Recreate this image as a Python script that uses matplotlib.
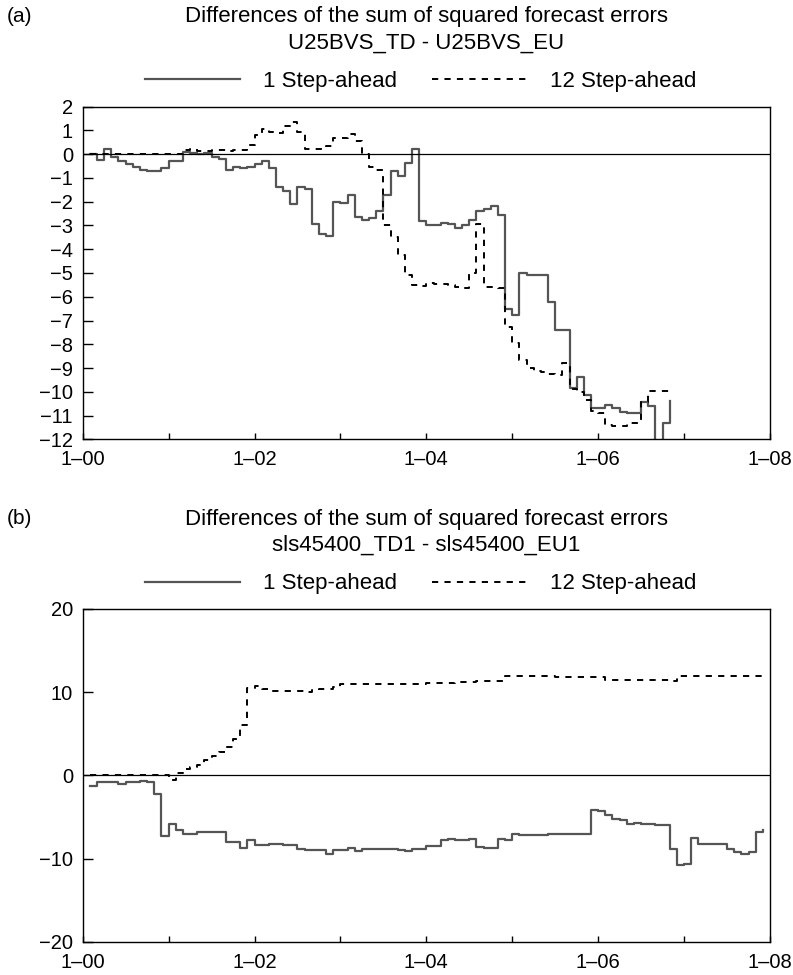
import matplotlib
matplotlib.use("Agg")
import matplotlib.pyplot as plt
import numpy as np
from matplotlib.ticker import MultipleLocator

plt.rcParams['font.family'] = ['Liberation Sans', 'DejaVu Sans']

# months counted from January 2000, x ticks every 12 months
xtick_pos = [0, 12, 24, 36, 48, 60, 72, 84, 96]
xtick_labels = ['1–00', '', '1–02', '', '1–04', '', '1–06', '', '1–08']
series_names = ['1 Step-ahead', '12 Step-ahead']

# panel (a): U25BVS_TD - U25BVS_EU, monthly values from month 1 to 82
months_a = np.arange(1, 83)
one_step_a = [0, -0.25, 0.2, -0.1, -0.3, -0.4, -0.55, -0.65, -0.72, -0.72,
              -0.6, -0.3, -0.3, 0.1, 0.05, 0.0, 0.05, -0.1, -0.2, -0.65,
              -0.55, -0.57, -0.55, -0.4, -0.3, -0.6, -1.4, -1.55, -2.1, -1.4,
              -1.45, -2.95, -3.35, -3.45, -2.0, -2.05, -1.7, -2.65, -2.75, -2.7,
              -2.4, -1.7, -0.7, -0.9, -0.37, 0.2, -2.82, -2.96, -2.96, -2.9,
              -2.94, -3.1, -2.96, -2.78, -2.4, -2.3, -2.17, -2.54, -6.5, -6.78,
              -5.02, -5.09, -5.09, -5.09, -6.2, -7.38, -7.38, -9.83, -9.37, -10.14,
              -10.68, -10.68, -10.54, -10.7, -10.84, -10.91, -10.91, -10.42, -10.6, -12.5,
              -11.3, -10.4]
twelve_step_a = [0, 0, 0, 0, 0, 0, 0, 0, 0, 0,
                 0, 0, 0, 0.17, 0.2, 0.15, 0.15, 0.17, 0.17, 0.15,
                 0.17, 0.17, 0.4, 0.8, 1.05, 0.95, 0.91, 1.18, 1.36, 0.95,
                 0.2, 0.2, 0.2, 0.35, 0.68, 0.7, 0.85, 0.55, 0.0, -0.53,
                 -0.67, -3.0, -3.5, -4.25, -5.1, -5.5, -5.56, -5.42, -5.45, -5.45,
                 -5.5, -5.6, -5.63, -4.98, -2.92, -5.6, -5.6, -5.65, -7.27, -7.95,
                 -8.65, -9.0, -9.13, -9.15, -9.26, -9.3, -8.77, -9.9, -10.0, -10.35,
                 -10.8, -10.9, -11.4, -11.45, -11.45, -11.3, -11.3, -10.42, -9.97, -9.97,
                 -9.97, -9.97]

# panel (b): sls45400_TD1 - sls45400_EU1, monthly values from month 1 to 95
months_b = np.arange(1, 96)
one_step_b = [-1.3, -0.85, -0.85, -0.85, -1.05, -0.85, -0.75, -0.65, -0.8, -2.3,
              -7.3, -5.8, -6.6, -7.0, -7.1, -6.85, -6.85, -6.85, -6.85, -8.0,
              -8.0, -8.7, -7.8, -8.4, -8.4, -8.3, -8.3, -8.4, -8.4, -8.9,
              -9.0, -9.0, -9.0, -9.4, -9.0, -9.0, -8.7, -9.05, -8.85, -8.85,
              -8.85, -8.85, -8.85, -8.95, -9.1, -8.9, -8.85, -8.45, -8.45, -7.8,
              -7.6, -7.8, -7.8, -7.6, -8.6, -8.7, -8.7, -7.65, -7.8, -7.0,
              -7.2, -7.2, -7.2, -7.15, -7.0, -7.0, -7.0, -7.05, -7.05, -7.05,
              -4.2, -4.3, -4.8, -5.3, -5.4, -5.8, -5.75, -5.8, -5.9, -6.0,
              -6.0, -8.8, -10.8, -10.7, -7.5, -8.3, -8.3, -8.3, -8.3, -8.8,
              -9.2, -9.5, -9.2, -6.8, -6.6]
twelve_step_b = [0, 0, 0, 0, 0, 0, 0, 0, 0, 0,
                 0, -0.5, 0.3, 0.8, 1.0, 1.3, 1.9, 2.3, 2.8, 3.4,
                 4.4, 6.1, 10.5, 10.8, 10.4, 10.2, 10.2, 10.1, 10.1, 10.1,
                 10.0, 10.3, 10.35, 10.35, 10.6, 11.0, 11.0, 11.0, 11.0, 11.0,
                 11.0, 11.0, 11.0, 11.0, 11.0, 11.0, 11.0, 11.1, 11.1, 11.1,
                 11.1, 11.2, 11.2, 11.2, 11.3, 11.3, 11.3, 11.3, 12.0, 12.0,
                 12.0, 12.0, 12.0, 12.0, 12.0, 11.8, 11.8, 11.8, 11.8, 11.8,
                 11.8, 11.8, 11.5, 11.5, 11.5, 11.5, 11.5, 11.5, 11.5, 11.5,
                 11.5, 11.4, 11.9, 11.9, 11.9, 11.9, 11.9, 11.9, 11.9, 11.9,
                 11.9, 11.9, 11.9, 11.9, 11.9]

W, H = 793, 975
fig = plt.figure(figsize=(W / 100, H / 100), dpi=100)


def panel(rect_px, months, s1, s2, ylim, ystep, tag, line1, line2):
    left, top, right, bottom = rect_px
    ax = fig.add_axes([left / W, 1 - bottom / H, (right - left) / W, (bottom - top) / H])
    ax.plot(months, s1, drawstyle='steps-post', color='#555555', lw=1.6,
            label=series_names[0])
    ax.plot(months, s2, drawstyle='steps-post', color='black', lw=1.4,
            dashes=(3.2, 3.2), label=series_names[1])
    ax.axhline(0, color='black', lw=0.9)
    ax.set_xlim(0, 96)
    ax.set_ylim(*ylim)
    ax.set_xticks(xtick_pos)
    ax.set_xticklabels(xtick_labels)
    ax.yaxis.set_major_locator(MultipleLocator(ystep))
    ax.tick_params(axis='y', direction='in', length=7, width=1, labelsize=14.5, pad=7)
    ax.tick_params(axis='x', direction='in', length=4.5, width=1, labelsize=14.5, pad=8)
    for sp in ax.spines.values():
        sp.set_linewidth(1.0)
    # legend above the axes
    leg_y = 1 + 25 / (bottom - top)
    ax.legend(loc='center', bbox_to_anchor=(0.4915, leg_y), ncol=2, frameon=False,
              fontsize=16, handlelength=4.3, handletextpad=1.0, columnspacing=1.6,
              borderaxespad=0, borderpad=0)
    cx = (left + right) / 2 / W
    fig.text(7 / W, 1 - (top - 90) / H, tag, fontsize=15, ha='left', va='center')
    fig.text(cx, 1 - (top - 90) / H, line1, fontsize=16, ha='center', va='center')
    fig.text(cx, 1 - (top - 64) / H, line2, fontsize=16, ha='center', va='center')
    return ax


panel((82.7, 106.7, 770, 439.3), months_a, one_step_a, twelve_step_a, (-12, 2), 1, '(a)',
      'Differences of the sum of squared forecast errors', 'U25BVS_TD - U25BVS_EU')
panel((82.7, 609, 770, 941.7), months_b, one_step_b, twelve_step_b, (-20, 20), 10, '(b)',
      'Differences of the sum of squared forecast errors', 'sls45400_TD1 - sls45400_EU1')

fig.savefig('out.png', dpi=100)
